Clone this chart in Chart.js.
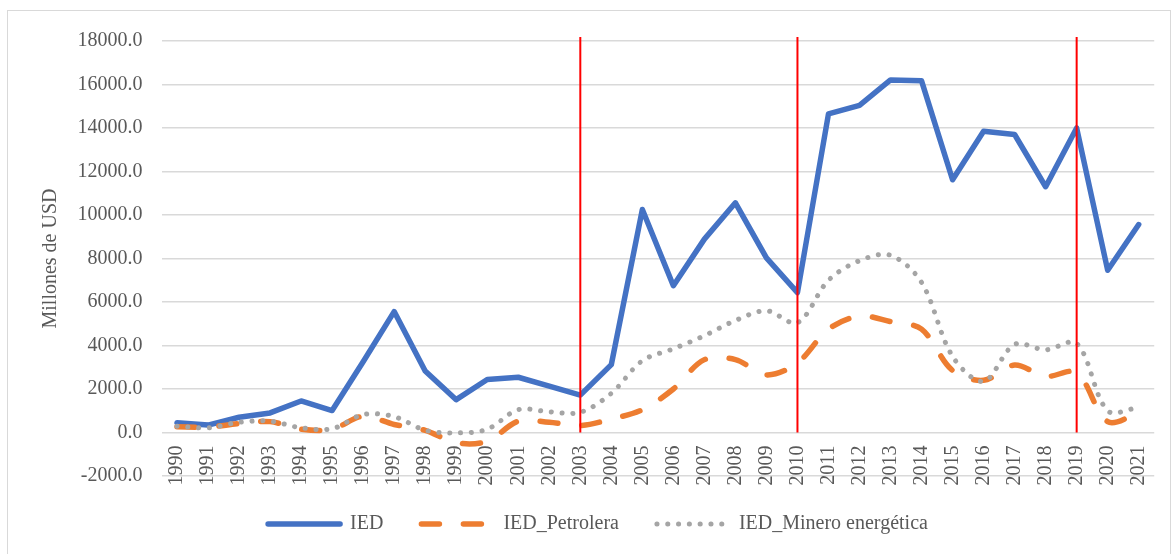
<!DOCTYPE html>
<html lang="es">
<head>
<meta charset="utf-8">
<title>IED 1990-2021</title>
<script src="https://cdn.jsdelivr.net/npm/chart.js@4.4.1/dist/chart.umd.min.js"></script>
<style>
    html, body { margin: 0; padding: 0; background: #ffffff; }
    #marco {
        position: absolute; left: 7px; top: 10px;
        width: 1162px; height: 560px;
        border: 1px solid #d9d9d9;
    }
    #contenedor { position: absolute; left: 0; top: 0; width: 1176px; height: 554px; }
</style>
</head>
<body>
<div id="marco"></div>
<div id="contenedor"><canvas id="grafico"></canvas></div>
<script>
// Datos (millones de USD)
const anios = ['1990', '1991', '1992', '1993', '1994', '1995', '1996', '1997', '1998', '1999',
    '2000', '2001', '2002', '2003', '2004', '2005', '2006', '2007', '2008', '2009',
    '2010', '2011', '2012', '2013', '2014', '2015', '2016', '2017', '2018', '2019',
    '2020', '2021'];

const ied = [450, 340, 700, 900, 1450, 1010, 3250, 5560, 2830, 1510,
    2440, 2540, 2130, 1720, 3120, 10250, 6750, 8890, 10560, 8030,
    6430, 14650, 15040, 16210, 16170, 11620, 13850, 13700, 11300, 14000,
    7460, 9560];

const iedPetrolera = [260, 250, 410, 500, 150, 150, 750, 370, 100, -470,
    -400, 520, 470, 320, 620, 1050, 2000, 3350, 3350, 2650,
    3200, 4750, 5350, 5100, 4750, 2850, 2400, 3100, 2580, 2750,
    500, 900];

const iedMinero = [290, 215, 470, 520, 215, 170, 825, 730, 105, -20,
    150, 1050, 950, 930, 1800, 3300, 3850, 4450, 5150, 5600,
    5050, 7000, 7900, 8150, 6900, 3500, 2350, 4050, 3800, 4100,
    1000, 1150];

const nombresSeries = ['IED', 'IED_Petrolera', 'IED_Minero energética'];

// Años marcados con línea roja vertical
const aniosMarcados = ['2003', '2010', '2019'];

// Eje Y
const yMin = -2000;
const yMax = 18000;
const yPaso = 2000;

const FUENTE = "'Liberation Serif', 'Times New Roman', serif";
const GRIS_TEXTO = '#595959';

// Líneas rojas verticales (por encima de las series)
const lineasRojas = {
    id: 'lineasRojas',
    afterDatasetsDraw(chart) {
        const { ctx, chartArea, scales } = chart;
        const yCero = scales.y.getPixelForValue(0);
        ctx.save();
        ctx.strokeStyle = '#ff0000';
        ctx.lineWidth = 2;
        aniosMarcados.forEach(anio => {
            const x = scales.x.getPixelForValue(anios.indexOf(anio));
            ctx.beginPath();
            ctx.moveTo(x, chartArea.top - 4);
            ctx.lineTo(x, yCero);
            ctx.stroke();
        });
        ctx.restore();
    }
};

const ctx = document.getElementById('grafico').getContext('2d');
new Chart(ctx, {
    type: 'line',
    data: {
        labels: anios,
        datasets: [
            {
                label: nombresSeries[0],
                data: ied,
                borderColor: '#4472c4',
                backgroundColor: '#4472c4',
                borderWidth: 5.5,
                borderCapStyle: 'round',
                borderJoinStyle: 'round',
                tension: 0,
                pointRadius: 0,
                order: 3
            },
            {
                label: nombresSeries[1],
                data: iedPetrolera,
                borderColor: '#ed7d31',
                backgroundColor: '#ed7d31',
                borderWidth: 5.5,
                borderDash: [18, 24],
                borderCapStyle: 'round',
                borderJoinStyle: 'round',
                tension: 0.33,
                pointRadius: 0,
                order: 2
            },
            {
                label: nombresSeries[2],
                data: iedMinero,
                borderColor: '#a5a5a5',
                backgroundColor: '#a5a5a5',
                borderWidth: 5,
                borderDash: [0.1, 10.7],
                borderCapStyle: 'round',
                borderJoinStyle: 'round',
                tension: 0.33,
                pointRadius: 0,
                order: 1
            }
        ]
    },
    options: {
        responsive: true,
        maintainAspectRatio: false,
        animation: false,
        devicePixelRatio: 1,
        layout: {
            padding: { left: 39, right: 19, top: 41, bottom: 10 }
        },
        scales: {
            x: {
                type: 'category',
                position: { y: 0 },
                offset: true,
                grid: { display: false, drawTicks: false },
                border: { display: false },
                ticks: {
                    autoSkip: false,
                    minRotation: 90,
                    maxRotation: 90,
                    padding: 13,
                    color: GRIS_TEXTO,
                    font: { family: FUENTE, size: 20 }
                }
            },
            y: {
                min: yMin,
                max: yMax,
                afterFit(escala) { escala.width = 122.5; },
                grid: { color: '#d9d9d9', lineWidth: 1.5, drawTicks: false, tickLength: 0 },
                border: { display: false },
                ticks: {
                    stepSize: yPaso,
                    padding: 19,
                    color: GRIS_TEXTO,
                    font: { family: FUENTE, size: 20 },
                    callback: (v) => Number(v).toFixed(1)
                },
                title: {
                    display: true,
                    text: 'Millones de USD',
                    color: GRIS_TEXTO,
                    padding: 0,
                    font: { family: FUENTE, size: 20 }
                }
            }
        },
        plugins: {
            tooltip: { enabled: false },
            legend: {
                position: 'bottom',
                labels: {
                    usePointStyle: true,
                    pointStyleWidth: 72,
                    padding: 38,
                    color: GRIS_TEXTO,
                    font: { family: FUENTE, size: 20 },
                    generateLabels: (chart) => chart.data.datasets.map((ds, i) => ({
                        text: ds.label,
                        fillStyle: ds.borderColor,
                        strokeStyle: ds.borderColor,
                        lineWidth: ds.borderWidth,
                        lineDash: ds.borderDash || [],
                        lineCap: 'round',
                        pointStyle: 'line',
                        fontColor: GRIS_TEXTO,
                        hidden: false,
                        datasetIndex: i
                    }))
                }
            }
        }
    },
    plugins: [lineasRojas]
});
</script>
</body>
</html>
